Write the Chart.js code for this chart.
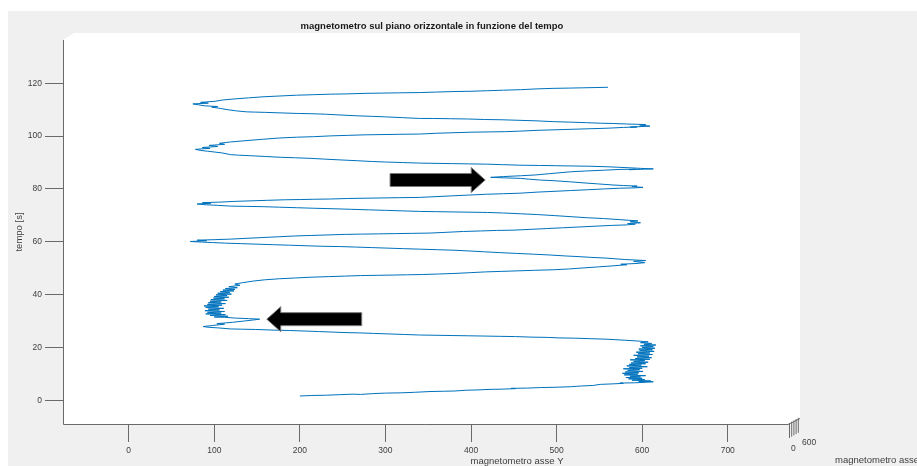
<!DOCTYPE html>
<html>
<head>
<meta charset="utf-8">
<script src="https://cdn.jsdelivr.net/npm/chart.js@4.4.1/dist/chart.umd.min.js"></script>
<style>
  html, body { margin: 0; padding: 0; background: #fff; overflow: hidden; }
  #wrap { width: 917px; height: 466px; }
</style>
</head>
<body>
<div id="wrap"><canvas id="c" width="917" height="466"></canvas></div>
<script>
// Horizontal-plane magnetometer reading (Y component) against time [s]
const asseY = [
  200,214,231,246,262, 271,285,300,318,334, 352,368,381,395,408, 421,436,452,447,466, 481,497,516,529,543, 551,566,578,574,591, 604,613,
  596,610,588,603,584, 600,581,598,586,604, 579,595,577,596,580, 601,583,597,578,600, 585,606,582,599,585, 604,587,607,590,603, 586,609,592,611,594, 608,590,612,595,609, 593,614,597,612,596, 615,600,613,598,616, 602,611,598,607,
  596,581,559,540,521, 503,489,470,452,433, 415,397,378,359,340, 322,305,286,270,255, 239,222,206,188,176, 165,148,132,119,104, 94,87,
  98,112,103,121,135, 146,153,140,125,112, 100,
  116,95,113,90,108, 92,112,89,106,93, 111,90,105,88,109, 92,113,93,108,95, 115,96,112,99,117, 100,115,102,120,104, 118,107,123,110,124, 113,127,117,130,124, 133,
  145,159,176,195,214, 233,252,271,290,309, 326,343,362,380,399, 417,436,455,474,496, 514,531,549,566,582, 575,594,603,
  590,604,579,559,540, 525,512,492,473,453, 433,416,399,380,361, 341,321,302,284,265, 246,226,207,188,169, 150,131,112,98,85, 72,
  91,80,100,118,137, 156,175,194,214,233, 253,272,292,312,332, 352,372,391,411,430, 449,469,488,507,526, 545,564,582,592,583, 598,
  586,595,573,555,536, 517,498,478,458,438, 419,400,380,360,340, 320,300,280,260,240, 216,196,176,157,138, 119,104,91,80,
  96,86,105,124,143, 162,182,201,216,236, 256,276,296,316,340, 359,378,398,418,438, 457,477,497,516,536, 555,574,590,601,
  588,594,578,566,549, 532,516,498,480,468, 458,440,423,438,458, 475,492,516,534,555, 574,592,585,603,613,
  598,580,560,540,520, 500,480,457,437,418, 398,378,358,340,320, 300,284,267,247,229, 212,195,177,160,142, 128,119,110,100,92, 84,78,
  95,86,104,94,112, 106,119,137,156,176, 196,216,236,256,276, 296,316,340,360,380, 400,420,440,457,477, 497,518,538,559,578, 594,586,609,
  597,604,582,566,551, 535,516,496,476,456, 436,416,396,376,356, 340,320,300,284,267, 248,230,213,197,178, 160,148,138,125,116, 107,97,104,88,81, 75,
  93,84,101,110,124, 140,157,176,196,216, 236,255,275,295,315, 340,360,380,400,419, 438,458,477,496,515, 530,545,560
];
const tempo = [
  1.6,1.8,1.9,2.1,2.3, 2.2,2.5,2.7,2.8,3.0, 3.3,3.4,3.5,3.8,3.9, 4.1,4.2,4.4,4.5,4.6, 4.8,4.9,5.1,5.4,5.6, 6.0,6.2,6.4,6.5,6.6, 6.8,7.0,
  7.1,7.3,7.6,7.8,8.1, 8.3,8.6,8.8,9.1,9.3, 9.6,9.9,10.2,10.4,10.7, 10.9,11.3,11.6,11.9,12.1, 12.4,12.7,13.0,13.3,13.6, 13.8,14.1,14.4,14.7,15.0, 15.3,15.5,15.8,16.1,16.4, 16.7,17.0,17.3,17.6,17.9, 18.2,18.5,18.8,19.1,19.4, 19.7,20.0,20.3,20.6,20.9, 21.2,21.5,21.8,22.1,
  22.4,22.7,23.1,23.3,23.5, 23.6,23.8,23.9,24.1,24.2, 24.3,24.4,24.5,24.6,24.7, 24.9,25.1,25.3,25.5,25.6, 25.8,26.0,26.2,26.4,26.5, 26.6,26.8,26.9,27.0,27.4, 27.6,27.9,
  28.3,28.8,29.0,29.5,30.0, 30.4,30.7,30.9,31.1,31.4, 31.5,
  31.8,32.1,32.4,32.7,33.0, 33.3,33.6,33.9,34.2,34.5, 34.8,35.1,35.4,35.7,36.0, 36.3,36.6,36.9,37.2,37.5, 37.8,38.1,38.4,38.7,39.0, 39.3,39.6,39.9,40.2,40.5, 40.8,41.1,41.4,41.7,42.0, 42.3,42.6,43.0,43.5,44.0, 44.5,
  45.1,45.6,46.0,46.3,46.6, 46.8,47.0,47.2,47.3,47.4, 47.5,47.6,47.8,48.0,48.3, 48.6,48.8,49.0,49.2,49.4, 49.7,50.1,50.5,50.9,51.3, 51.5,51.8,52.1,
  52.6,52.9,53.3,53.8,54.1, 54.4,54.6,55.0,55.3,55.6, 55.9,56.2,56.5,56.8,57.0, 57.2,57.4,57.6,57.8,58.0, 58.2,58.3,58.5,58.7,58.9, 59.1,59.3,59.5,59.7,59.9, 60.1,
  60.4,60.6,60.8,61.0,61.3, 61.6,61.9,62.2,62.4,62.6, 62.8,62.9,63.0,63.1,63.2, 63.3,63.6,63.9,64.1,64.3, 64.4,64.7,65.0,65.3,65.6, 65.9,66.2,66.4,66.7,66.9, 67.2,
  67.6,67.9,68.4,68.8,69.1, 69.5,69.9,70.3,70.6,70.9, 71.1,71.2,71.3,71.4,71.5, 71.7,71.9,72.1,72.3,72.5, 72.7,72.9,73.1,73.3,73.4, 73.5,73.8,74.0,74.3,
  74.6,74.8,75.0,75.3,75.5, 75.7,75.9,76.0,76.1,76.2, 76.4,76.5,76.6,76.7,76.8, 77.1,77.4,77.7,78.0,78.2, 78.4,78.8,79.1,79.4,79.7, 80.0,80.3,80.4,80.6,
  80.9,81.1,81.3,81.5,81.9, 82.3,82.7,83.1,83.4,83.7, 84.0,84.2,84.4,84.7,85.0, 85.3,85.8,86.5,86.8,87.1, 87.4,87.5,87.3,87.5,87.6,
  87.8,88.1,88.4,88.6,88.7, 88.8,88.9,89.0,89.2,89.4, 89.5,89.6,89.7,89.8,90.0, 90.2,90.4,90.7,91.0,91.3, 91.6,91.8,92.0,92.3,92.6, 92.8,93.0,93.6,94.0,94.3, 94.6,95.0,
  95.4,95.7,96.1,96.5,96.9, 97.3,97.8,98.3,98.8,99.3, 99.6,99.8,100.1,100.3,100.5, 100.6,100.7,100.8,101.1,101.3, 101.5,101.6,101.7,101.9,102.2, 102.4,102.6,102.8,103.0,103.3, 103.5,103.4,103.8,
  104.2,104.4,104.6,104.8,104.9, 105.1,105.3,105.5,105.8,106.0, 106.2,106.3,106.5,106.6,106.7, 106.7,107.0,107.3,107.5,107.7, 108.0,108.3,108.5,108.6,108.8, 109.0,109.1,109.2,109.6,110.0, 110.5,111.0,111.2,111.5,111.9, 112.2,
  112.5,112.8,113.2,113.7,114.1, 114.5,114.9,115.2,115.5,115.7, 115.9,116.0,116.2,116.3,116.4, 116.5,116.7,116.9,117.0,117.2, 117.4,117.6,117.9,118.1,118.2, 118.3,118.4,118.5
];

// Tick values of the two visible axes
const tickY = [0, 100, 200, 300, 400, 500, 600, 700];
const tickTempo = [0, 20, 40, 60, 80, 100, 120];

// Annotation arrows, expressed in axis units (start -> tip)
const frecce = [
  { da: [305.4, 83.4], a: [416.6, 83.4] },
  { da: [272.3, 30.7], a: [161.3, 30.7] }
];

const FONT = "'Liberation Sans', Arial, Helvetica, sans-serif";
const TEXT = '#404040';
const AXIS = '#6a6a6a';

const punti = [];
for (let i = 0; i < Math.min(asseY.length, tempo.length); i++) {
  punti.push({ x: asseY[i], y: tempo[i] });
}

const figura = {
  id: 'figura',
  beforeDraw(chart) {
    const ctx = chart.ctx, a = chart.chartArea;
    ctx.save();
    ctx.fillStyle = '#ffffff';
    ctx.fillRect(0, 0, chart.width, chart.height);
    ctx.fillStyle = '#f0f0f0';
    ctx.fillRect(8, 11, chart.width - 8, chart.height - 11);
    // white face of the 3-D axes box
    ctx.fillStyle = '#ffffff';
    ctx.beginPath();
    ctx.moveTo(a.left, a.top + 7);
    ctx.lineTo(a.left + 11, a.top);
    ctx.lineTo(a.right + 12, a.top);
    ctx.lineTo(a.right + 12, a.bottom - 6);
    ctx.lineTo(a.right, a.bottom);
    ctx.lineTo(a.left, a.bottom);
    ctx.closePath();
    ctx.fill();
    ctx.restore();
  },
  afterDraw(chart) {
    const ctx = chart.ctx, a = chart.chartArea;
    const sx = chart.scales.x, sy = chart.scales.y;
    ctx.save();

    // axis lines
    ctx.strokeStyle = AXIS;
    ctx.lineWidth = 1;
    ctx.beginPath();
    ctx.moveTo(a.left + 0.5, a.top + 7);
    ctx.lineTo(a.left + 0.5, a.bottom + 0.5);
    ctx.lineTo(a.right, a.bottom + 0.5);
    ctx.lineTo(a.right + 12, a.bottom - 5.5);
    ctx.stroke();

    // foreshortened depth axis
    ctx.beginPath();
    for (let k = 0; k < 5; k++) {
      const x = a.right + 1.5 + k * 2.2;
      const y0 = a.bottom - 1 - k * 1.3;
      ctx.moveTo(x, y0);
      ctx.lineTo(x, y0 + 15);
    }
    ctx.stroke();

    ctx.fillStyle = TEXT;
    ctx.font = '8.5px ' + FONT;
    ctx.textBaseline = 'middle';
    ctx.textAlign = 'left';
    ctx.fillText('0', a.right + 3, a.bottom + 25);
    ctx.fillText('600', a.right + 14, a.bottom + 19);

    // titles
    ctx.font = 'bold 9.5px ' + FONT;
    ctx.textAlign = 'center';
    ctx.fillStyle = '#1a1a1a';
    ctx.fillText('magnetometro sul piano orizzontale in funzione del tempo', 432, 26);

    ctx.font = '9.5px ' + FONT;
    ctx.fillStyle = TEXT;
    ctx.fillText('magnetometro asse Y', 517, 461);
    ctx.textAlign = 'left';
    ctx.fillText('magnetometro asse X', a.right + 47, 460);

    ctx.save();
    ctx.translate(19, 232);
    ctx.rotate(-Math.PI / 2);
    ctx.textAlign = 'center';
    ctx.fillText('tempo [s]', 0, 0);
    ctx.restore();

    // arrows
    ctx.fillStyle = '#000000';
    ctx.strokeStyle = '#7a7a7a';
    ctx.lineWidth = 1;
    frecce.forEach(f => {
      const x0 = sx.getPixelForValue(f.da[0]);
      const x1 = sx.getPixelForValue(f.a[0]);
      const y = sy.getPixelForValue(f.a[1]);
      const dir = Math.sign(x1 - x0);
      const head = 14, hw = 12.5, bw = 6.5;
      const xb = x1 - dir * head;
      ctx.beginPath();
      ctx.moveTo(x0, y - bw);
      ctx.lineTo(xb, y - bw);
      ctx.lineTo(xb, y - hw);
      ctx.lineTo(x1, y);
      ctx.lineTo(xb, y + hw);
      ctx.lineTo(xb, y + bw);
      ctx.lineTo(x0, y + bw);
      ctx.closePath();
      ctx.fill();
      ctx.stroke();
    });
    ctx.restore();
  }
};

new Chart(document.getElementById('c'), {
  type: 'scatter',
  data: {
    datasets: [{
      data: punti,
      showLine: true,
      borderColor: '#0072BD',
      borderWidth: 1,
      pointRadius: 0,
      tension: 0,
      fill: false
    }]
  },
  options: {
    responsive: false,
    devicePixelRatio: 1,
    animation: false,
    layout: { padding: { top: 33, left: 0, right: 129, bottom: 0 } },
    plugins: { legend: { display: false }, tooltip: { enabled: false }, title: { display: false } },
    scales: {
      x: {
        type: 'linear',
        position: 'bottom',
        min: -76.8,
        max: 770.4,
        afterBuildTicks: s => { s.ticks = tickY.map(v => ({ value: v })); },
        afterFit: s => { s.height = 42; },
        border: { display: false },
        grid: { drawOnChartArea: false, drawTicks: true, tickLength: 18, tickColor: AXIS, lineWidth: 1 },
        ticks: { color: TEXT, font: { family: FONT, size: 8.5 }, padding: 4, maxRotation: 0, autoSkip: false }
      },
      y: {
        type: 'linear',
        position: 'left',
        min: -9.0,
        max: 139.06,
        afterBuildTicks: s => { s.ticks = tickTempo.map(v => ({ value: v })); },
        afterFit: s => { s.width = 63; },
        border: { display: false },
        grid: { drawOnChartArea: false, drawTicks: true, tickLength: 18, tickColor: AXIS, lineWidth: 1 },
        ticks: { color: TEXT, font: { family: FONT, size: 8.5 }, padding: 3, autoSkip: false }
      }
    }
  },
  plugins: [figura]
});
</script>
</body>
</html>
